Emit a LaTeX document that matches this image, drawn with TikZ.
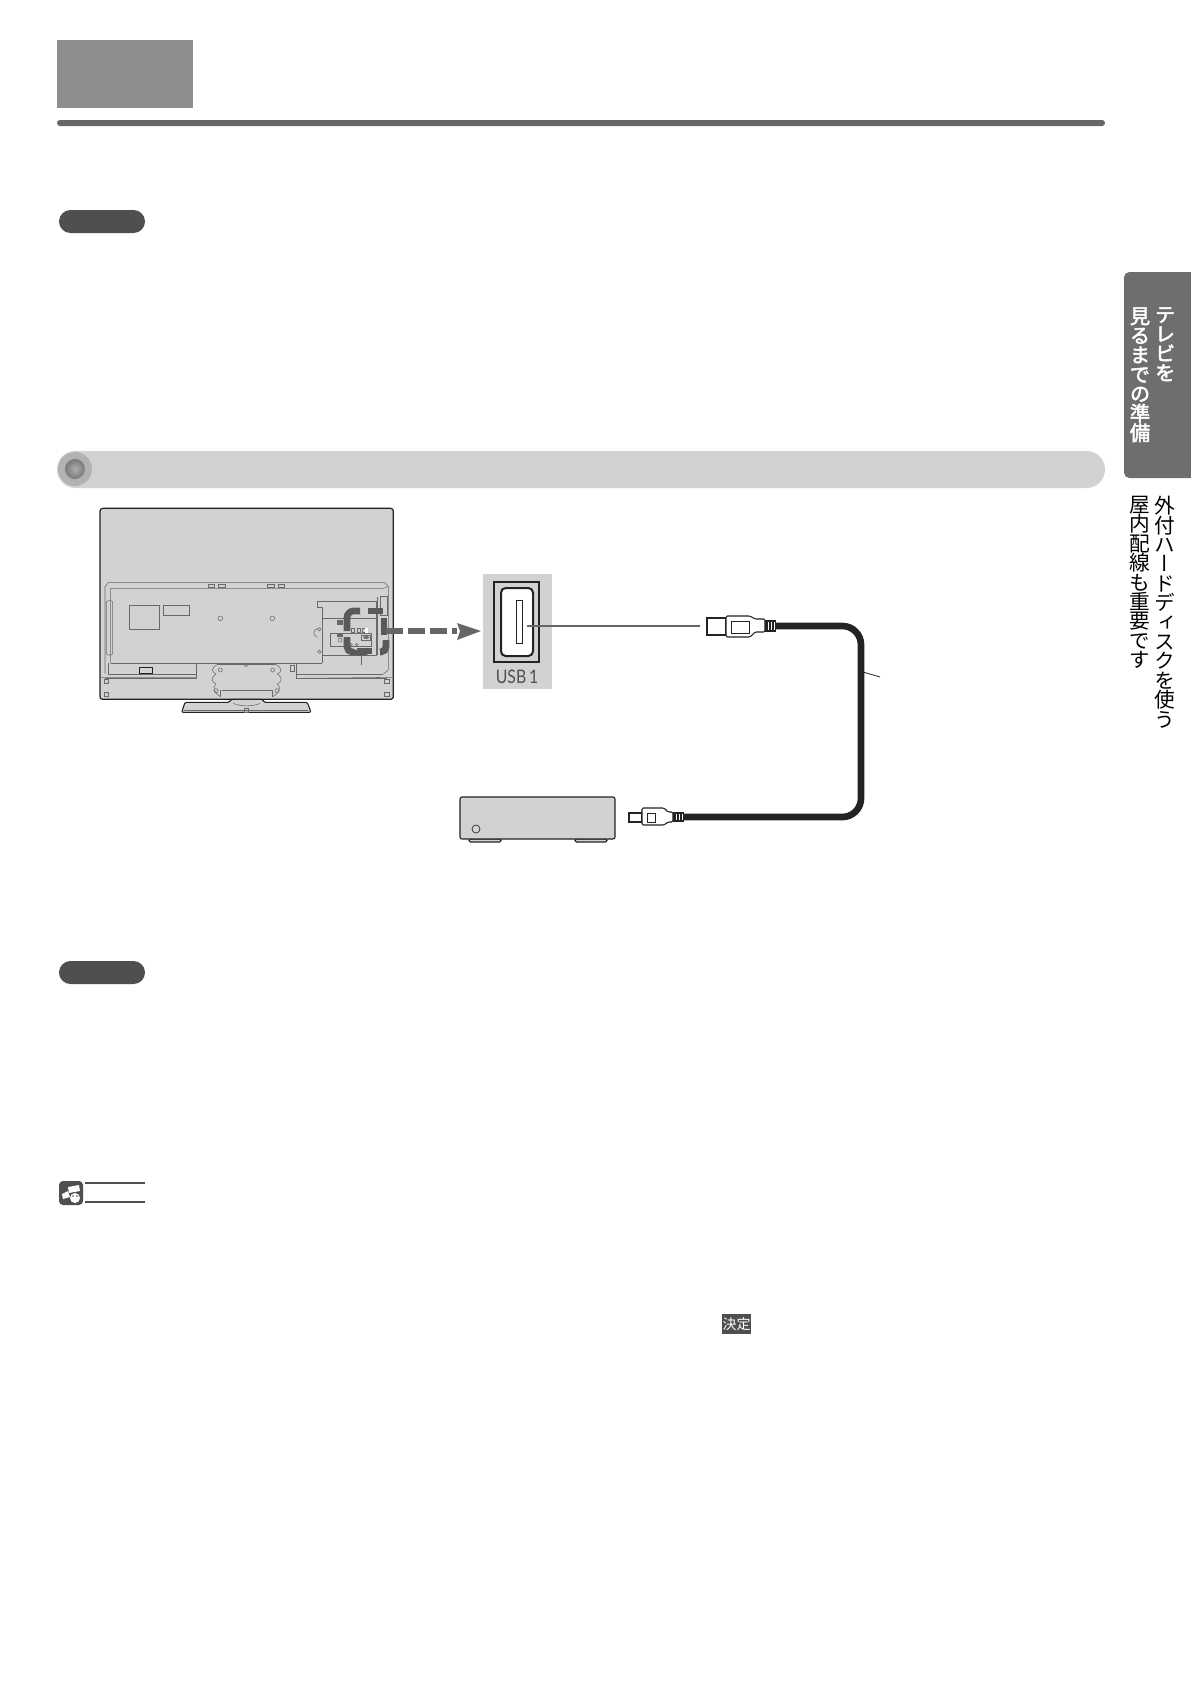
\documentclass[tikz,border=0pt]{standalone}
\usepackage{fontspec}
\setsansfont{Lato}
\newfontfamily\cjk{Noto Sans CJK JP}
\newfontfamily\cjkv[RawFeature=+vert]{Noto Sans CJK JP}
\newfontfamily\cjkvb[RawFeature=+vert,FakeBold=2.5]{Noto Sans CJK JP}
\lineskiplimit=-20pt

\definecolor{panelgray}{RGB}{210,210,210}
\definecolor{headgray}{RGB}{143,141,141}
\definecolor{rulegray}{RGB}{102,102,102}
\definecolor{calloutgray}{RGB}{90,90,90}
\definecolor{pillgray}{RGB}{80,78,78}
\definecolor{tabgray}{RGB}{110,110,110}
\definecolor{inkgray}{RGB}{35,35,35}
\definecolor{thingray}{RGB}{105,105,105}
\definecolor{ringgray}{RGB}{178,178,178}

\tikzset{
  pill/.style={fill=pillgray,rounded corners=8.6pt},
  tvline/.style={draw=thingray,line width=0.4pt},
  boxline/.style={draw=inkgray,line width=0.8pt},
  plugpart/.style={draw=inkgray,fill=white,line width=0.8pt},
  sidetext/.style={inner sep=0pt,anchor=north,align=center,font=\cjkv\fontsize{15.5}{14.55}\selectfont},
  sidebold/.style={inner sep=0pt,anchor=north,align=center,text=white,font=\cjkvb\fontsize{15.2}{14.6}\selectfont},
}

\begin{document}
\begin{tikzpicture}[x=0.75pt,y=0.75pt,yscale=-1,xscale=1]
  \useasboundingbox (0,0) rectangle (1191,1684);
  \fill[white] (0,0) rectangle (1191,1684);

  %Shape: Header block
  \fill[headgray] (57,40) rectangle (193,108);
  \fill[rulegray,rounded corners=2.2pt] (57,120) rectangle (1105,126);

  %Shape: Pills
  \fill[pill] (59,210) rectangle (145,233);
  \fill[pill] (59,961) rectangle (145,984);

  %Shape: Section bar
  \fill[panelgray,rounded corners=13.8pt] (57,451) rectangle (1105,488);
  \fill[ringgray] (75,469) circle [radius=17];
  \shade[inner color=gray!65,outer color=gray!105] (75,469) circle [radius=10];

  %Shape: Side tab
  \fill[tabgray,rounded corners=4pt] (1124,272) -- (1196,272) -- (1196,478) -- (1124,478) -- cycle;

  % Text Node
  \node (tabOne) [sidebold] at (1165,307) {テ\\レ\\ビ\\を};
  % Text Node
  \node (tabTwo) [sidebold] at (1140,307) {見\\る\\ま\\で\\の\\準\\備};
  % Text Node
  \node (sideOne) [sidetext,black] at (1165,496) {外\\付\\ハ\\ー\\ド\\デ\\ィ\\ス\\ク\\を\\使\\う};
  % Text Node
  \node (sideTwo) [sidetext,black] at (1140,496) {屋\\内\\配\\線\\も\\重\\要\\で\\す};

  %Shape: TV back, in zoomed units
  \begin{scope}[shift={(90,500)},x=0.25pt,y=0.25pt]
    \draw[fill=panelgray,draw=inkgray,line width=0.9pt,rounded corners=2pt] (30,25) rectangle (910,598);
    \draw[tvline] (30,532) -- (318,532) (620,535) -- (910,532);
    \draw[tvline] (45,520) -- (45,260) -- (55,248) -- (885,248) -- (895,260) -- (895,510) -- (880,522);
    \draw[tvline] (62,490) -- (62,265) -- (880,265) -- (895,260);
    \draw[tvline,rounded corners=1.5pt] (49,302) rectangle (68,465);
    \draw[tvline] (118,316) rectangle (209,388);
    \draw[tvline] (220,316) rectangle (299,347);
    \foreach \xa/\xb in {355/373,385/407,532/553,565/582}
      \draw[tvline] (\xa,252) rectangle (\xb,262);
    \foreach \xa in {391,547}
      \draw[tvline] (\xa,355) circle [radius=7];
    \draw[tvline] (62,490) -- (697,490);
    \draw[tvline] (55,490) -- (55,522) -- (318,522) -- (318,490);
    \draw[tvline] (45,535) -- (318,535) -- (318,522);
    \draw[boxline,fill=panelgray,line width=0.5pt] (148,503) rectangle (188,520);
    \draw[tvline] (620,490) -- (620,535) -- (890,535);
    \draw[tvline] (620,522) -- (880,522);
    \draw[tvline] (600,497) rectangle (612,515);

    %Shape: Terminal panel
    \draw[tvline] (682,303) -- (682,322) -- (697,322) -- (697,490);
    \draw[tvline] (682,303) -- (860,303) -- (860,465);
    \draw[tvline] (697,355) -- (860,355);
    \draw[tvline] (697,465) -- (860,465);
    \draw[tvline] (815,465) -- (815,495);
    \draw[tvline] (722,400) rectangle (845,440);
    \draw[tvline] (862,290) -- (862,465) (872,290) -- (892,290) -- (892,345) -- (872,345) -- cycle;
    \draw[tvline] (682,385) .. controls (668,392) and (668,405) .. (682,412);
    \draw[tvline] (688,455) circle [radius=5] (688,388) circle [radius=5];
    \fill[rulegray] (742,360) rectangle (758,374);
    \fill[rulegray] (740,403) rectangle (760,410);
    \draw[tvline] (750,420) circle [radius=6];
    \foreach \xa in {785,802,818}
      \draw[tvline] (\xa,384) rectangle +(8,14);
    \fill[white] (826,384) rectangle +(9,14);
    \draw[tvline] (815,405) rectangle (842,420);
    \fill[rulegray] (828.5,412.5) ellipse [x radius=9,y radius=4];
    \foreach \xa in {783,800}
      \draw[tvline] (\xa,434) circle [radius=4];

    %Shape: Stand plate
    \draw[tvline] (385,492) -- (555,492);
    \draw[tvline] (385,492) .. controls (360,505) and (365,515) .. (378,522) .. controls (360,535) and (365,545) .. (378,552)
       .. controls (365,565) and (372,578) .. (392,590);
    \draw[tvline] (555,492) .. controls (580,505) and (575,515) .. (562,522) .. controls (580,535) and (575,545) .. (562,552)
       .. controls (575,565) and (568,578) .. (548,590);
    \draw[tvline] (395,570) -- (545,570);
    \draw[tvline] (392,570) -- (392,592) (548,570) -- (548,592);
    \draw[tvline] (391,510) circle [radius=6] (548,510) circle [radius=6];
    \draw[tvline] (378,572) circle [radius=6] (561,572) circle [radius=6];
    \draw[tvline] (463,495) -- (468,500) -- (473,495);

    %Shape: Corner clips
    \foreach \xa in {42,884}
      \draw[tvline] (\xa,537) rectangle +(13,12) (\xa,577) rectangle +(13,13);

    %Shape: Stand foot
    \draw[fill=panelgray,draw=inkgray,line width=0.8pt,rounded corners=1pt] (275,637) -- (285,607) -- (418,607) -- (423,598) -- (518,598) -- (522,607) -- (652,607) -- (663,637) -- cycle;
    \draw[tvline] (283,630) -- (655,630);
    \draw[tvline] (430,610) .. controls (450,620) and (490,620) .. (510,610);
    \draw[tvline] (463,625) rectangle (475,637);
  \end{scope}

  %Shape: Dashed callout
  \begin{scope}[draw=calloutgray,line width=5pt]
    \draw (383,611) -- (368,611);
    \draw[rounded corners=5pt] (360,611) -- (347,611) -- (347,631);
    \draw[rounded corners=4pt] (347,637) -- (347,652) -- (350,652);
    \draw (357,651) -- (372,651);
    \draw[rounded corners=4pt] (380,652) -- (386,652) -- (386,640);
    \draw (384,618) -- (384,635);
  \end{scope}

  %Straight Lines: Dashed arrow
  \coordinate (arrowStart) at (386,631);
  \coordinate (arrowEnd) at (457,631);
  \draw[rulegray,line width=4.5pt,dash pattern={on 12.75pt off 3.75pt}] (arrowStart) -- (arrowEnd);
  \fill[rulegray] (457,623) -- (481,631) -- (457,640) -- (460,631) -- cycle;

  %Shape: USB port
  \fill[panelgray] (483,574) rectangle (552,689);
  \draw[boxline] (494,582) rectangle (539,662);
  \draw[fill=white,draw=inkgray,line width=1.5pt,rounded corners=3.5pt] (501,588) rectangle (533,656);
  \draw[draw=inkgray,line width=0.5pt] (516,600) rectangle (522,643);
  % Text Node
  \node (usbLabel) [inner sep=0pt,text=inkgray!80] at (517,677) {\scalebox{0.85}[1]{\sffamily\fontsize{14}{16}\selectfont USB\,1}};

  %Straight Lines: Port to plug leader
  \coordinate (slotEnd) at (527,626);
  \coordinate (plugEnd) at (700,626);
  \draw[rulegray,line width=0.8pt] (slotEnd) -- (plugEnd);

  %Straight Lines: Cable
  \coordinate (cableTop) at (776,626);
  \coordinate (cableLow) at (684,817);
  \draw[inkgray,line width=5pt,rounded corners=14pt] (cableTop) -- (861,626) -- (861,817) -- (cableLow);
  \coordinate (cableTick) at (863,672);
  \coordinate (tickEnd) at (880,677);
  \draw[inkgray,line width=0.6pt] (cableTick) -- (tickEnd);

  %Shape: Upper plug
  \draw[plugpart] (707,618) rectangle (726,635);
  \draw[plugpart,rounded corners=1pt] (726,616) -- (750,616) -- (755,619) -- (765,619) -- (765,632) -- (755,632) -- (750,637) -- (726,637) -- cycle;
  \draw[boxline,line width=0.6pt] (731,621) rectangle (749,633);
  \fill[inkgray] (765,620) rectangle (776,632);
  \foreach \x in {768,771,774}
    \draw[white,line width=0.6pt] (\x,622) -- (\x,630);

  %Shape: Lower plug
  \draw[plugpart] (629,813) rectangle (642,822);
  \draw[plugpart,rounded corners=1pt] (642,808) -- (664,808) -- (668,812) -- (673,812) -- (673,822) -- (668,822) -- (664,825) -- (642,825) -- cycle;
  \draw[boxline,line width=0.6pt] (647,813) rectangle (655,822);
  \fill[inkgray] (673,812) rectangle (684,822);
  \foreach \x in {676,679,682}
    \draw[white,line width=0.6pt] (\x,814) -- (\x,820);

  %Shape: HDD box
  \draw[boxline,fill=panelgray,rounded corners=1pt] (469,839) rectangle (501,842);
  \draw[boxline,fill=panelgray,rounded corners=1pt] (575,839) rectangle (607,842);
  \draw[boxline,fill=panelgray,rounded corners=1.5pt] (460,797) rectangle (615,839);
  \draw[boxline,line width=0.5pt] (476,829) circle [radius=4];

  %Shape: Note icon
  \fill[pillgray,rounded corners=3pt] (59,1181) rectangle (83,1205);
  \fill[white] (75,1198) circle [radius=5];
  \fill[white] (68,1187) -- (79,1185) -- (80,1191) -- (69,1193) -- cycle;
  \fill[white] (62,1194) -- (68,1191) -- (70,1197) -- (63,1199) -- cycle;
  \fill[pillgray] (73,1196) circle [radius=0.8] (77,1196) circle [radius=0.8];
  \draw[pillgray,line width=1.5pt] (85,1183) -- (145,1183) (85,1202) -- (145,1202);

  %Shape: Key badge
  \fill[pillgray] (722,1314) rectangle (751,1334);
  % Text Node
  \node (keyLabel) [inner sep=0pt,white] at (736.5,1324) {\cjk\fontsize{10.5}{12}\selectfont 決定};
\end{tikzpicture}
\end{document}
